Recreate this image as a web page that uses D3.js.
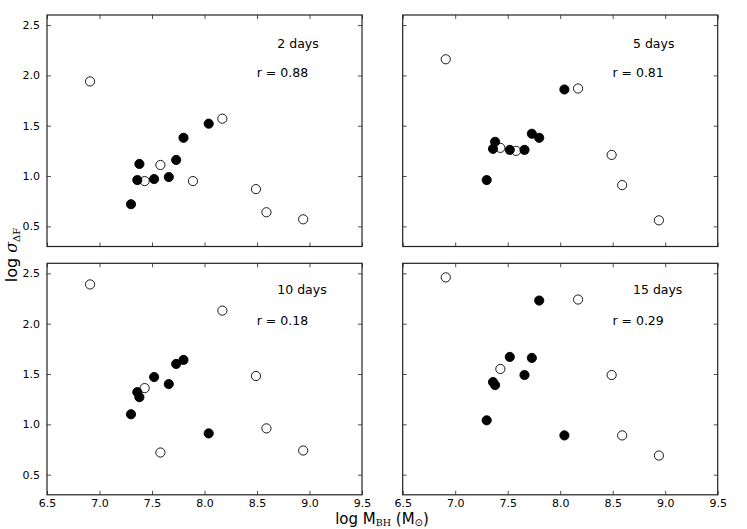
<!DOCTYPE html>
<html><head><meta charset="utf-8">
<script src="https://cdn.jsdelivr.net/npm/d3@7"></script>
<style>body{margin:0;background:#fff}svg{display:block}text{font-family:"DejaVu Sans",sans-serif}</style>
</head><body><svg id="c" width="747" height="529"></svg>
<script>
const xTicks = [6.5, 7.0, 7.5, 8.0, 8.5, 9.0, 9.5];
const yTicks = [0.5, 1.0, 1.5, 2.0, 2.5];
const panelLabels = ["2 days", "5 days", "10 days", "15 days"];
const rValues = ["r = 0.88", "r = 0.81", "r = 0.18", "r = 0.29"];
const filledMass = [7.30, 7.36, 7.38, 7.52, 7.66, 7.73, 7.80, 8.04];
const filled2 = [0.72, 0.96, 1.12, 0.97, 0.99, 1.16, 1.38, 1.52];
const filled5 = [0.96, 1.27, 1.34, 1.26, 1.26, 1.42, 1.38, 1.86];
const filled10 = [1.10, 1.32, 1.27, 1.47, 1.40, 1.60, 1.64, 0.91];
const filled15 = [1.04, 1.42, 1.39, 1.67, 1.49, 1.66, 2.23, 0.89];
const open2Mass = [6.91, 7.43, 7.58, 7.89, 8.17, 8.49, 8.59, 8.94];
const open2 = [1.94, 0.95, 1.11, 0.95, 1.57, 0.87, 0.64, 0.57];
const open5Mass = [6.91, 7.43, 7.58, 8.17, 8.49, 8.59, 8.94];
const open5 = [2.16, 1.28, 1.25, 1.87, 1.21, 0.91, 0.56];
const open10Mass = [6.91, 7.43, 7.58, 8.17, 8.49, 8.59, 8.94];
const open10 = [2.39, 1.36, 0.72, 2.13, 1.48, 0.96, 0.74];
const open15Mass = [6.91, 7.43, 8.17, 8.49, 8.59, 8.94];
const open15 = [2.46, 1.55, 2.24, 1.49, 0.89, 0.69];

const panels = [
  {fx: filledMass, fy: filled2, ox: open2Mass, oy: open2},
  {fx: filledMass, fy: filled5, ox: open5Mass, oy: open5},
  {fx: filledMass, fy: filled10, ox: open10Mass, oy: open10},
  {fx: filledMass, fy: filled15, ox: open15Mass, oy: open15}
];
const lefts = [47, 402.7], tops = [15, 263.3];
const W = 315, H = 231.5;
const svg = d3.select("#c");

panels.forEach((p, i) => {
  const col = i % 2, row = Math.floor(i / 2);
  const g = svg.append("g").attr("transform", `translate(${lefts[col]},${tops[row]})`);
  const x = d3.scaleLinear().domain([6.5, 9.5]).range([0, W]);
  const y = d3.scaleLinear().domain([0.3, 2.6]).range([H, 0]);
  const tl = 4;
  const axB = d3.axisBottom(x).tickValues(xTicks).tickFormat(d3.format(".1f")).tickSizeInner(-tl).tickSizeOuter(0).tickPadding(4);
  const axT = d3.axisTop(x).tickValues(xTicks).tickFormat("").tickSizeInner(-tl).tickSizeOuter(0);
  const axL = d3.axisLeft(y).tickValues(yTicks).tickFormat(d3.format(".1f")).tickSizeInner(-tl).tickSizeOuter(0).tickPadding(7);
  const axR = d3.axisRight(y).tickValues(yTicks).tickFormat("").tickSizeInner(-tl).tickSizeOuter(0);
  const gb = g.append("g").attr("transform", `translate(0,${H})`).call(axB);
  const gt = g.append("g").call(axT);
  const gl = g.append("g").call(axL);
  const gr = g.append("g").attr("transform", `translate(${W},0)`).call(axR);
  if (row === 0) gb.selectAll("text").remove();
  if (col === 1) gl.selectAll("text").remove();
  [gb, gt, gl, gr].forEach(a => {
    a.select(".domain").remove();
    a.selectAll("line").attr("stroke", "#222").attr("stroke-width", 0.8);
    a.selectAll("text").attr("font-size", 11).attr("fill", "#000").attr("font-family", "DejaVu Sans");
  });
  g.append("rect").attr("width", W).attr("height", H).attr("fill", "none").attr("stroke", "#222").attr("stroke-width", 1.2);

  g.selectAll(".o").data(p.ox.map((v, k) => [v, p.oy[k]])).enter().append("circle")
    .attr("cx", d => x(d[0])).attr("cy", d => y(d[1])).attr("r", 4.6)
    .attr("fill", "#fff").attr("stroke", "#000").attr("stroke-width", 0.9);
  g.selectAll(".f").data(p.fx.map((v, k) => [v, p.fy[k]])).enter().append("circle")
    .attr("cx", d => x(d[0])).attr("cy", d => y(d[1])).attr("r", 4.6)
    .attr("fill", "#000").attr("stroke", "#000").attr("stroke-width", 0.9);

  const ty1 = row === 0 ? 32.5 : 30.5;
  const ty2 = row === 0 ? 62 : 61.5;
  g.append("text").attr("x", 230.3).attr("y", ty1).attr("font-size", 12.5).text(panelLabels[i]);
  g.append("text").attr("x", 209.7).attr("y", ty2).attr("font-size", 12.5).text(rValues[i]);
});

// y label
const yl = svg.append("text").attr("transform", "translate(17,255) rotate(-90)").attr("text-anchor", "middle").attr("font-size", 16);
yl.append("tspan").text("log ");
yl.append("tspan").attr("font-family", "DejaVu Serif").attr("font-style", "italic").text("σ");
yl.append("tspan").attr("font-size", 10).attr("dy", 3).attr("font-family", "DejaVu Serif").text("ΔF");

// x label
const xl = svg.append("text").attr("x", 382).attr("y", 524).attr("text-anchor", "middle").attr("font-size", 15);
xl.append("tspan").text("log M");
xl.append("tspan").attr("font-size", 9.5).attr("dy", 2).attr("font-family", "DejaVu Serif").text("BH");
xl.append("tspan").attr("dy", -2).text(" (M");
xl.append("tspan").attr("font-size", 10).attr("dy", 2).text("⊙");
xl.append("tspan").attr("dy", -2).text(")");
</script></body></html>
